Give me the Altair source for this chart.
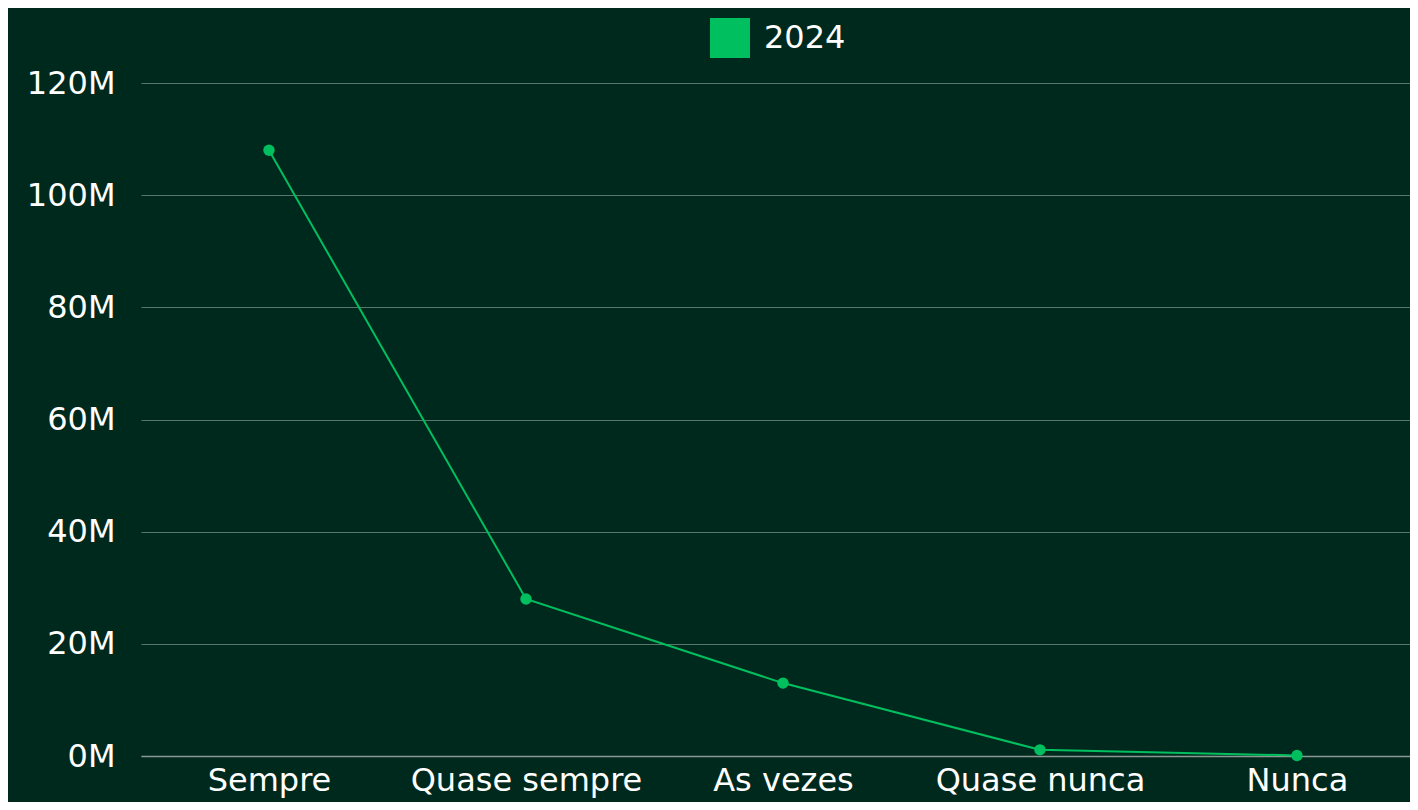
import altair as alt
import pandas as pd

categories = ["Sempre", "Quase sempre", "As vezes", "Quase nunca", "Nunca"]
values = [108_000_000, 28_000_000, 13_000_000, 1_100_000, 100_000]
series = ["2024", "2024", "2024", "2024", "2024"]
y_ticks = [0, 20_000_000, 40_000_000, 60_000_000, 80_000_000, 100_000_000, 120_000_000]

df = pd.DataFrame({"categoria": categories, "valor": values, "ano": series})

GREEN = "#00bf5f"
BG = "#00291e"
FONT = "DejaVu Sans"
FS = 32

x = alt.X(
    "categoria:N",
    sort=categories,
    title=None,
    scale=alt.Scale(type="point", padding=0.4689, align=0.531),
    axis=alt.Axis(
        labelAngle=0, labelFontSize=FS, labelColor="#ffffff", labelFont=FONT,
        labelFontWeight="normal", labelLimit=0,
        ticks=False, domain=True, domainColor="#8a9a93", domainWidth=1.5,
        labelPadding=9, grid=False,
    ),
)
y = alt.Y(
    "valor:Q",
    title=None,
    scale=alt.Scale(domain=[0, 120_000_000], nice=False),
    axis=alt.Axis(
        values=y_ticks,
        labelExpr="format(datum.value / 1000000, 'd') + 'M'",
        labelFontSize=FS, labelColor="#ffffff", labelFont=FONT,
        grid=True, gridColor="#6f8a7e", gridOpacity=0.8, gridWidth=1,
        domain=False, ticks=False, labelPadding=26,
    ),
)

line = alt.Chart(df).mark_line(color=GREEN, strokeWidth=2).encode(x=x, y=y)
points = alt.Chart(df).mark_point(filled=True, size=130, opacity=1).encode(
    x=x,
    y=y,
    color=alt.Color(
        "ano:N",
        scale=alt.Scale(range=[GREEN]),
        legend=alt.Legend(
            title=None, orient="none", legendX=569, legendY=-65, padding=0,
            symbolType="square", symbolSize=1600,
            symbolStrokeWidth=0, symbolOpacity=1, labelFontSize=FS,
            labelColor="#ffffff", labelFont=FONT, labelOffset=14,
        ),
    ),
)

chart = (
    alt.layer(line, points)
    .properties(
        width=1269,
        height=673,
        autosize="none",
        padding={"left": 133, "top": 75, "right": 0, "bottom": 46},
        background=BG,
    )
    .configure_view(stroke=None)
)

chart.save("out.html", embed_options={"renderer": "svg", "actions": False})
